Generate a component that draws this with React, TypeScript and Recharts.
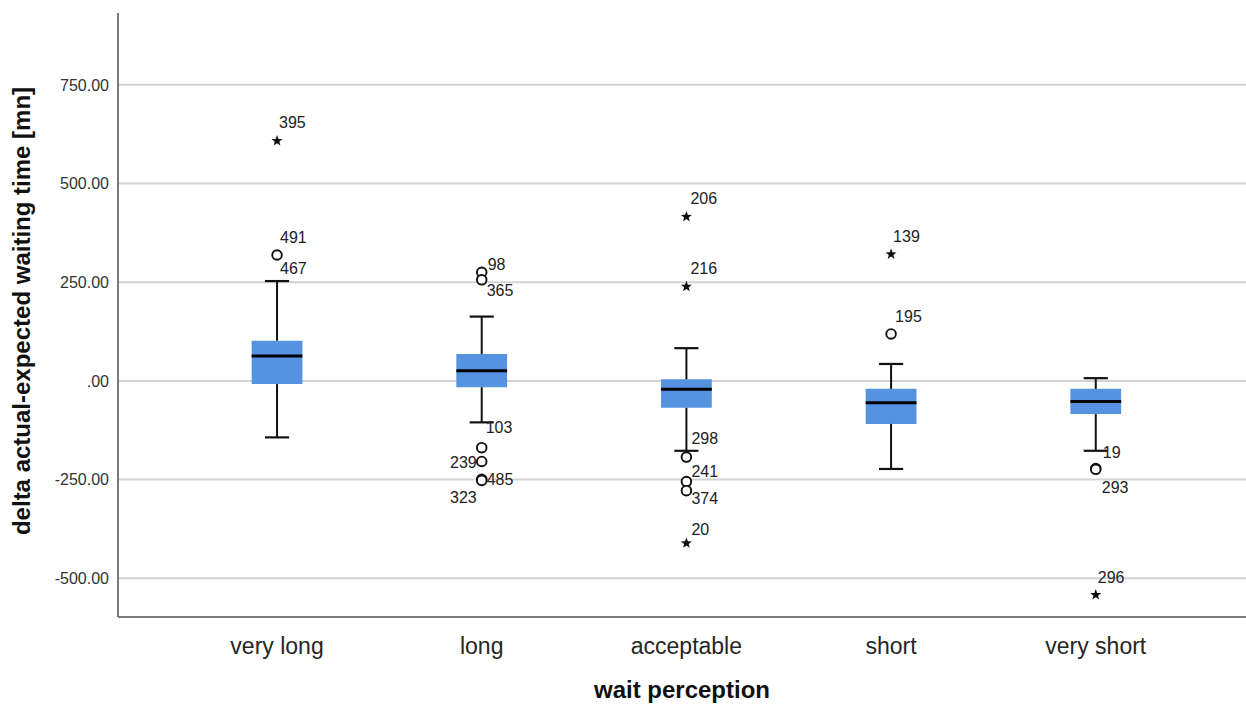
import React from 'react';
import {
  ComposedChart,
  XAxis,
  YAxis,
  CartesianGrid,
  ReferenceArea,
  ReferenceLine,
  Scatter,
} from 'recharts';

// ---------- data ----------
const categories = ['very long', 'long', 'acceptable', 'short', 'very short'];
const q1Values = [-8, -16, -68, -109, -84];
const medianValues = [63, 26, -21, -55, -52];
const q3Values = [102, 68, 4, -20, -20];
const whiskerLow = [-143, -105, -177, -223, -177];
const whiskerHigh = [253, 163, 83, 43, 7];
const yTicks = [-500, -250, 0, 250, 500, 750];

// kind: 'outlier' (circle), 'extreme' (star), 'label' (case label only)
const outliers = [
  { cat: 0, value: 608, id: '395', kind: 'extreme' },
  { cat: 0, value: 319, id: '491', kind: 'outlier' },
  { cat: 0, value: 253, id: '467', kind: 'label' },
  { cat: 1, value: 275, id: '98', kind: 'outlier' },
  { cat: 1, value: 256, id: '365', kind: 'outlier' },
  { cat: 1, value: -169, id: '103', kind: 'outlier' },
  { cat: 1, value: -204, id: '239', kind: 'outlier' },
  { cat: 1, value: -249, id: '485', kind: 'outlier' },
  { cat: 1, value: -252, id: '323', kind: 'outlier' },
  { cat: 2, value: 416, id: '206', kind: 'extreme' },
  { cat: 2, value: 239, id: '216', kind: 'extreme' },
  { cat: 2, value: -193, id: '298', kind: 'outlier' },
  { cat: 2, value: -255, id: '241', kind: 'outlier' },
  { cat: 2, value: -278, id: '374', kind: 'outlier' },
  { cat: 2, value: -411, id: '20', kind: 'extreme' },
  { cat: 3, value: 321, id: '139', kind: 'extreme' },
  { cat: 3, value: 119, id: '195', kind: 'outlier' },
  { cat: 4, value: -222, id: '19', kind: 'outlier' },
  { cat: 4, value: -224, id: '293', kind: 'outlier' },
  { cat: 4, value: -542, id: '296', kind: 'extreme' },
];

// ---------- styling ----------
const FONT = '"Liberation Sans", Arial, sans-serif';
const BOX_FILL = '#5592E0';
const BOX_HALF = 0.124;
const CAP_HALF = 0.059;
const X_DOMAIN: [number, number] = [-0.777, 4.734];
const Y_DOMAIN: [number, number] = [-598, 932];

// label placement relative to the marker: [dx, dy, anchor]
const labelOffsets: Record<string, [number, number, 'start' | 'end']> = {
  '395': [2, -18, 'start'],
  '491': [3, -17, 'start'],
  '467': [3, -13, 'start'],
  '98': [6, -8, 'start'],
  '365': [5, 11, 'start'],
  '103': [4, -20, 'start'],
  '239': [-5, 1, 'end'],
  '485': [5, 0, 'start'],
  '323': [-5, 17, 'end'],
  '206': [4, -18, 'start'],
  '216': [4, -18, 'start'],
  '298': [5, -19, 'start'],
  '241': [5, -10, 'start'],
  '374': [5, 8, 'start'],
  '20': [5, -14, 'start'],
  '139': [2, -18, 'start'],
  '195': [4, -17, 'start'],
  '19': [7, -16, 'start'],
  '293': [6, 18, 'start'],
  '296': [2, -17, 'start'],
};

const scatterData = outliers.map((o) => ({ x: o.cat, y: o.value, id: o.id, kind: o.kind }));

const starPoints = (cx: number, cy: number, ro: number, ri: number) => {
  const pts: string[] = [];
  for (let i = 0; i < 10; i++) {
    const r = i % 2 === 0 ? ro : ri;
    const a = -Math.PI / 2 + (i * Math.PI) / 5;
    pts.push(`${cx + r * Math.cos(a)},${cy + r * Math.sin(a)}`);
  }
  return pts.join(' ');
};

const OutlierShape = (props: any) => {
  const { cx, cy, payload } = props;
  if (cx == null || cy == null) return null;
  const off = labelOffsets[payload.id] || [4, -14, 'start'];
  return (
    <g>
      {payload.kind === 'outlier' && (
        <circle cx={cx} cy={cy} r={4.8} fill="#fff" stroke="#111" strokeWidth={1.9} />
      )}
      {payload.kind === 'extreme' && (
        <polygon points={starPoints(cx, cy, 5.8, 2.4)} fill="#111" />
      )}
      <text
        x={cx + off[0]}
        y={cy + off[1]}
        textAnchor={off[2]}
        dominantBaseline="central"
        fontSize={16}
        fontFamily={FONT}
        fill="#222"
      >
        {payload.id}
      </text>
    </g>
  );
};

const XTick = (props: any) => {
  const { x, y, payload } = props;
  return (
    <text x={x} y={y + 35} textAnchor="middle" fontSize={23} fontFamily={FONT} fill="#262626">
      {categories[payload.value]}
    </text>
  );
};

const fmtY = (v: number) => (v === 0 ? '.00' : v.toFixed(2));

export default function App() {
  return (
    <div style={{ position: 'absolute', left: 0, top: 0, background: '#fff' }}>
      <ComposedChart
        width={1246}
        height={705}
        margin={{ top: 13, right: 0, bottom: 0, left: 0 }}
      >
        <CartesianGrid
          vertical={false}
          syncWithTicks
          stroke="#d3d3d3"
          strokeWidth={2}
          fill="none"
        />
        <XAxis
          type="number"
          dataKey="x"
          domain={X_DOMAIN}
          ticks={[0, 1, 2, 3, 4]}
          allowDataOverflow
          height={88}
          tickLine={false}
          tickSize={0}
          tick={<XTick />}
          axisLine={{ stroke: '#7a7a7a', strokeWidth: 2 }}
          label={{
            content: (p: any) => {
              const vb = p.viewBox || {};
              return (
                <text
                  x={vb.x + vb.width / 2}
                  y={vb.y + 81}
                  textAnchor="middle"
                  fontSize={24}
                  fontWeight="bold"
                  fontFamily={FONT}
                  fill="#111"
                >
                  wait perception
                </text>
              );
            },
          }}
        />
        <YAxis
          type="number"
          dataKey="y"
          domain={Y_DOMAIN}
          ticks={yTicks}
          allowDataOverflow
          width={118}
          tickLine={false}
          tickSize={0}
          tickMargin={9}
          tickFormatter={fmtY}
          tick={{ fontSize: 16, fill: '#333', fontFamily: FONT }}
          axisLine={{ stroke: '#7a7a7a', strokeWidth: 2 }}
          label={{
            content: (p: any) => {
              const vb = p.viewBox || {};
              const cx = 21;
              const cy = vb.y + vb.height / 2 - 4;
              return (
                <text
                  x={cx}
                  y={cy}
                  transform={`rotate(-90, ${cx}, ${cy})`}
                  textAnchor="middle"
                  dominantBaseline="central"
                  fontSize={24}
                  fontWeight="bold"
                  fontFamily={FONT}
                  fill="#111"
                >
                  delta actual-expected waiting time [mn]
                </text>
              );
            },
          }}
        />
        {categories.map((c, i) => (
          <ReferenceLine
            key={`wu-${c}`}
            segment={[{ x: i, y: q3Values[i] }, { x: i, y: whiskerHigh[i] }]}
            stroke="#111"
            strokeWidth={2}
            ifOverflow="visible"
          />
        ))}
        {categories.map((c, i) => (
          <ReferenceLine
            key={`wl-${c}`}
            segment={[{ x: i, y: q1Values[i] }, { x: i, y: whiskerLow[i] }]}
            stroke="#111"
            strokeWidth={2}
            ifOverflow="visible"
          />
        ))}
        {categories.map((c, i) => (
          <ReferenceLine
            key={`cu-${c}`}
            segment={[{ x: i - CAP_HALF, y: whiskerHigh[i] }, { x: i + CAP_HALF, y: whiskerHigh[i] }]}
            stroke="#111"
            strokeWidth={2.2}
            ifOverflow="visible"
          />
        ))}
        {categories.map((c, i) => (
          <ReferenceLine
            key={`cl-${c}`}
            segment={[{ x: i - CAP_HALF, y: whiskerLow[i] }, { x: i + CAP_HALF, y: whiskerLow[i] }]}
            stroke="#111"
            strokeWidth={2.2}
            ifOverflow="visible"
          />
        ))}
        {categories.map((c, i) => (
          <ReferenceArea
            key={`box-${c}`}
            x1={i - BOX_HALF}
            x2={i + BOX_HALF}
            y1={q1Values[i]}
            y2={q3Values[i]}
            fill={BOX_FILL}
            fillOpacity={1}
            stroke="none"
            ifOverflow="visible"
          />
        ))}
        {categories.map((c, i) => (
          <ReferenceLine
            key={`med-${c}`}
            segment={[{ x: i - BOX_HALF, y: medianValues[i] }, { x: i + BOX_HALF, y: medianValues[i] }]}
            stroke="#000"
            strokeWidth={3}
            ifOverflow="visible"
          />
        ))}
        <Scatter data={scatterData} shape={<OutlierShape />} isAnimationActive={false} />
      </ComposedChart>
    </div>
  );
}
